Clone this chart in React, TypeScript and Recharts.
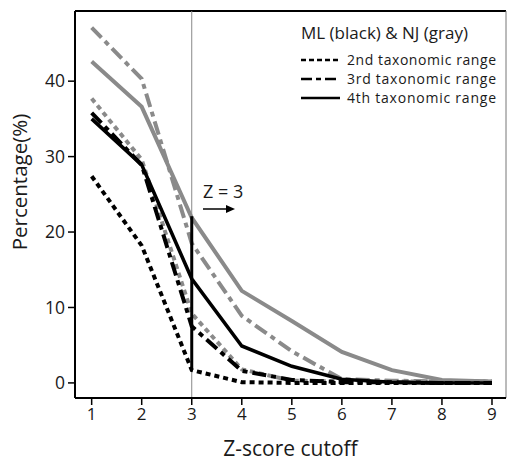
import { LineChart, Line, XAxis, YAxis, ReferenceLine } from "recharts";

const zCutoffs = [1, 2, 3, 4, 5, 6, 7, 8, 9];
const xTicks = [1, 2, 3, 4, 5, 6, 7, 8, 9];
const yTicks = [0, 10, 20, 30, 40];

// ML (black)
const mlSecond = [27.4, 18.2, 1.7, 0.1, 0.0, 0.0, 0.0, 0.0, 0.0];
const mlThird = [35.8, 28.9, 7.5, 1.6, 0.4, 0.1, 0.1, 0.0, 0.0];
const mlFourth = [35.0, 28.9, 13.8, 4.9, 2.2, 0.5, 0.1, 0.0, 0.0];

// NJ (gray)
const njSecond = [37.7, 29.6, 9.2, 1.8, 0.3, 0.2, 0.2, 0.2, 0.2];
const njThird = [47.1, 40.3, 18.5, 8.9, 4.2, 0.5, 0.3, 0.2, 0.2];
const njFourth = [42.6, 36.6, 21.9, 12.2, 8.2, 4.1, 1.7, 0.4, 0.2];

// the black bar drawn at Z = 3
const zMarkTop = 22.1;
const zMarkBottom = 1.7;

const legendRows = ["2nd taxonomic range", "3rd taxonomic range", "4th taxonomic range"];

const data = zCutoffs.map((z, i) => ({
  z,
  mlSecond: mlSecond[i],
  mlThird: mlThird[i],
  mlFourth: mlFourth[i],
  njSecond: njSecond[i],
  njThird: njThird[i],
  njFourth: njFourth[i],
}));

const GRAY = "#8a8a8a";
const DOTTED = "5 4";
const DASHDOT = "14 5 5 5";
const FONT = '"Open Sans", "DejaVu Sans", sans-serif';
const legendDash = ["5 3", "11 4 5 4", undefined];

export default function App() {
  return (
    <div style={{ position: "absolute", left: 0, top: 0, width: 507, height: 462, background: "#fff", fontFamily: FONT }}>
      <LineChart width={507} height={462} data={data} margin={{ top: 11, right: 1, bottom: 0, left: 0 }}>
        <XAxis
          dataKey="z"
          type="number"
          domain={[0.667, 9.28]}
          ticks={xTicks}
          allowDataOverflow
          height={64}
          tickSize={7}
          tickMargin={3}
          axisLine={{ stroke: "#000", strokeWidth: 2 }}
          tickLine={{ stroke: "#000", strokeWidth: 1.5 }}
          tick={{ fill: "#1a1a1a", fontSize: 17, fontFamily: FONT }}
          label={{ value: "Z-score cutoff", position: "insideBottom", offset: 6, fill: "#1a1a1a", fontSize: 21, fontFamily: FONT }}
        />
        <YAxis
          type="number"
          domain={[-2, 49.3]}
          ticks={yTicks}
          allowDataOverflow
          width={75}
          tickSize={7}
          tickMargin={3}
          axisLine={{ stroke: "#000", strokeWidth: 2 }}
          tickLine={{ stroke: "#000", strokeWidth: 1.5 }}
          tick={{ fill: "#1a1a1a", fontSize: 17.5, fontFamily: FONT }}
          label={() => (
            <text x={27} y={182} transform="rotate(-90 27 182)" textAnchor="middle" fill="#1a1a1a" fontSize={20.5} fontFamily={FONT}>
              Percentage(%)
            </text>
          )}
        />
        <ReferenceLine y={49.3} stroke="#000" strokeWidth={2} />
        <ReferenceLine x={9.28} stroke="#777" strokeWidth={1} />
        <ReferenceLine x={3} stroke="#888" strokeWidth={1} />

        <Line dataKey="njSecond" stroke={GRAY} strokeWidth={4} strokeDasharray={DOTTED} dot={false} isAnimationActive={false} />
        <Line dataKey="njThird" stroke={GRAY} strokeWidth={4} strokeDasharray={DASHDOT} dot={false} isAnimationActive={false} />
        <Line dataKey="njFourth" stroke={GRAY} strokeWidth={4} dot={false} isAnimationActive={false} />
        <Line dataKey="mlSecond" stroke="#000" strokeWidth={4} strokeDasharray={DOTTED} dot={false} isAnimationActive={false} />
        <Line dataKey="mlThird" stroke="#000" strokeWidth={4} strokeDasharray={DASHDOT} dot={false} isAnimationActive={false} />
        <Line dataKey="mlFourth" stroke="#000" strokeWidth={3.5} dot={false} isAnimationActive={false} />

        <ReferenceLine
          segment={[{ x: 3, y: zMarkTop }, { x: 3, y: zMarkBottom }]}
          stroke="#000"
          strokeWidth={3}
        />
      </LineChart>

      {/* legend + Z = 3 note */}
      <svg width={507} height={462} style={{ position: "absolute", left: 0, top: 0, pointerEvents: "none" }}>
        <text x={301} y={39} fontSize={17} fill="#1a1a1a" fontFamily={FONT}>ML (black) &amp; NJ (gray)</text>
        {legendRows.map((label, i) => (
          <g key={label}>
            <line x1={301} x2={340} y1={60 + i * 19} y2={60 + i * 19} stroke="#000" strokeWidth={2.5} strokeDasharray={legendDash[i]} />
            <text x={347} y={65 + i * 19} fontSize={14} textLength={149} lengthAdjust="spacing" fill="#1a1a1a" fontFamily={FONT}>
              {label}
            </text>
          </g>
        ))}

        <text x={203} y={198} fontSize={18} fill="#1a1a1a" fontFamily={FONT}>Z = 3</text>
        <line x1={203} x2={228} y1={209} y2={209} stroke="#000" strokeWidth={1.5} />
        <polygon points="235,209 226,205 226,213" fill="#000" />
      </svg>
    </div>
  );
}
